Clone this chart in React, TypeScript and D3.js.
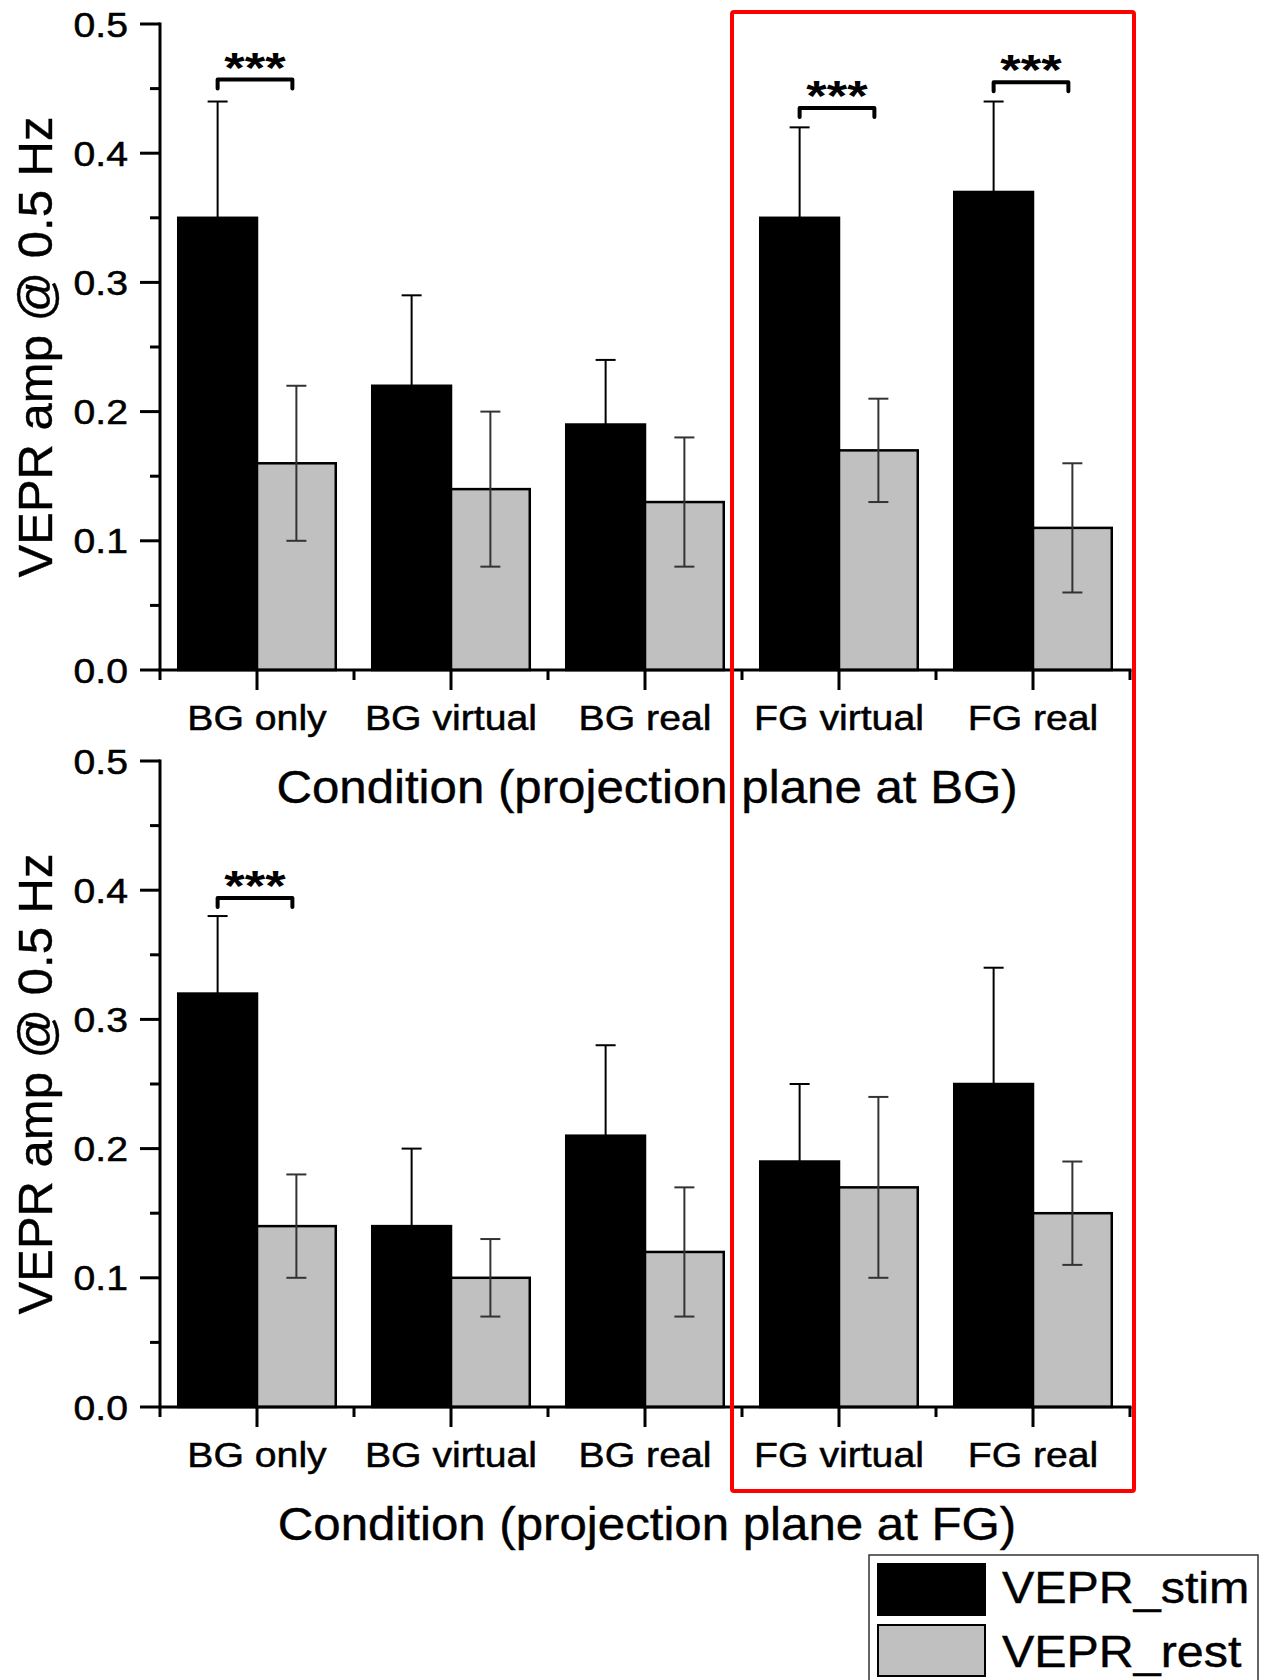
import React from "react";
import * as d3 from "d3";

const categories = ["BG only", "BG virtual", "BG real", "FG virtual", "FG real"];
const seriesNames = ["VEPR_stim", "VEPR_rest"];

const topStim = [0.35, 0.22, 0.19, 0.35, 0.37];
const topStimErr = [0.09, 0.07, 0.05, 0.07, 0.07];
const topRest = [0.16, 0.14, 0.13, 0.17, 0.11];
const topRestErr = [0.06, 0.06, 0.05, 0.04, 0.05];

const bottomStim = [0.32, 0.14, 0.21, 0.19, 0.25];
const bottomStimErr = [0.06, 0.06, 0.07, 0.06, 0.09];
const bottomRest = [0.14, 0.1, 0.12, 0.17, 0.15];
const bottomRestErr = [0.04, 0.03, 0.05, 0.07, 0.04];

const yTickValues = [0, 0.1, 0.2, 0.3, 0.4, 0.5];
const yMinorTicks = [0.05, 0.15, 0.25, 0.35, 0.45];

// significance brackets: category and bracket level (value units)
const topSig = [
  { cat: "BG only", level: 0.457 },
  { cat: "FG virtual", level: 0.435 },
  { cat: "FG real", level: 0.455 },
];
const bottomSig = [{ cat: "BG only", level: 0.394 }];

const topTitle = "Condition (projection plane at BG)";
const bottomTitle = "Condition (projection plane at FG)";
const yTitle = "VEPR amp @ 0.5 Hz";

const FONT = "'Liberation Sans', Arial, Helvetica, sans-serif";
const COLORS = ["#000000", "#c0c0c0"];

const X0 = 160;
const X1 = 1130;

function Panel({ y0, y1, stim, stimErr, rest, restErr, sig, title }) {
  const x = d3.scaleBand().domain(categories).range([X0, X1]).paddingInner(0.188).paddingOuter(0.094);
  const sub = d3.scaleBand().domain(seriesNames).range([0, x.bandwidth()]);
  const y = d3.scaleLinear().domain([0, 0.5]).range([y1, y0]);
  const step = x.step();
  const vals = [stim, rest];
  const errs = [stimErr, restErr];
  const boundaries = d3.range(categories.length + 1).map((i) => X0 + i * step);
  const tickLabelSx = 1.12;
  const tickFont = 35;

  return (
    <g>
      {/* bars */}
      {categories.map((c, i) =>
        seriesNames.map((s, j) => {
          const bx = (x(c) as number) + (sub(s) as number);
          const v = vals[j][i];
          return (
            <rect
              key={c + s}
              x={bx}
              y={y(v)}
              width={sub.bandwidth()}
              height={y(0) - y(v)}
              fill={COLORS[j]}
              stroke="#000"
              strokeWidth={2.5}
            />
          );
        })
      )}
      {/* error bars */}
      {categories.map((c, i) =>
        seriesNames.map((s, j) => {
          const cx = (x(c) as number) + (sub(s) as number) + sub.bandwidth() / 2;
          const v = vals[j][i];
          const e = errs[j][i];
          const col = j === 0 ? "#000" : "#333";
          return (
            <g key={"e" + c + s} stroke={col} strokeWidth={2}>
              <line x1={cx} x2={cx} y1={y(v + e)} y2={y(v - e)} />
              <line x1={cx - 10} x2={cx + 10} y1={y(v + e)} y2={y(v + e)} />
              <line x1={cx - 10} x2={cx + 10} y1={y(v - e)} y2={y(v - e)} />
            </g>
          );
        })
      )}
      {/* y axis */}
      <line x1={X0} x2={X0} y1={y(0.5) - 1.5} y2={y(0)} stroke="#000" strokeWidth={3} />
      {yTickValues.map((t) => (
        <line key={"yt" + t} x1={X0 - 20} x2={X0} y1={y(t)} y2={y(t)} stroke="#000" strokeWidth={3} />
      ))}
      {yMinorTicks.map((t) => (
        <line key={"ym" + t} x1={X0 - 10} x2={X0} y1={y(t)} y2={y(t)} stroke="#000" strokeWidth={3} />
      ))}
      {yTickValues.map((t) => (
        <text
          key={"yl" + t}
          transform={`translate(128,${y(t) + 12.5}) scale(${tickLabelSx},1)`}
          textAnchor="end"
          fontFamily={FONT}
          fontSize={tickFont}
          fill="#000"
          stroke="#000"
          strokeWidth={0.5}
        >
          {d3.format(".1f")(t)}
        </text>
      ))}
      {/* x axis */}
      <line x1={X0 - 1.5} x2={X1 + 1.5} y1={y(0)} y2={y(0)} stroke="#000" strokeWidth={3} />
      {categories.map((c) => {
        const cx = (x(c) as number) + x.bandwidth() / 2;
        return <line key={"xt" + c} x1={cx} x2={cx} y1={y(0)} y2={y(0) + 20} stroke="#000" strokeWidth={3} />;
      })}
      {boundaries.map((bx, i) => (
        <line key={"xm" + i} x1={bx} x2={bx} y1={y(0)} y2={y(0) + 10} stroke="#000" strokeWidth={3} />
      ))}
      {categories.map((c) => {
        const cx = (x(c) as number) + x.bandwidth() / 2;
        return (
          <text
            key={"xl" + c}
            transform={`translate(${cx},${y(0) + 60}) scale(${tickLabelSx},1)`}
            textAnchor="middle"
            fontFamily={FONT}
            fontSize={tickFont}
            fill="#000"
            stroke="#000"
            strokeWidth={0.5}
          >
            {c}
          </text>
        );
      })}
      {/* x title */}
      <text
        transform={`translate(${(X0 + X1) / 2 + 2},${y(0) + 133}) scale(1.07,1)`}
        textAnchor="middle"
        fontFamily={FONT}
        fontSize={46}
        fill="#000"
        stroke="#000"
        strokeWidth={0.4}
      >
        {title}
      </text>
      {/* y title */}
      <text
        transform={`translate(52,${(y(0) + y(0.5)) / 2}) rotate(-90)`}
        textAnchor="middle"
        fontFamily={FONT}
        fontSize={49}
        fill="#000"
        stroke="#000"
        strokeWidth={0.4}
      >
        {yTitle}
      </text>
      {/* significance */}
      {sig.map((s) => {
        const xs = (x(s.cat) as number) + (sub("VEPR_stim") as number) + sub.bandwidth() / 2;
        const xr = (x(s.cat) as number) + (sub("VEPR_rest") as number) + sub.bandwidth() / 2 - 4;
        const by = y(s.level);
        return (
          <g key={"sig" + s.cat}>
            <path
              d={`M${xs},${by + 9} L${xs},${by} L${xr},${by} L${xr},${by + 9}`}
              fill="none"
              stroke="#000"
              strokeWidth={4}
              strokeLinejoin="round"
              strokeLinecap="round"
            />
            <text
              transform={`translate(${(xs + xr) / 2},${by + 2}) scale(1.25,1)`}
              textAnchor="middle"
              fontFamily={FONT}
              fontWeight="bold"
              fontSize={42}
              fill="#000"
            >
              ***
            </text>
          </g>
        );
      })}
    </g>
  );
}

export default function App() {
  return (
    <svg
      width={1268}
      height={1680}
      viewBox="0 0 1268 1680"
      style={{ position: "absolute", left: 0, top: 0, background: "#fff" }}
    >
      <rect x={0} y={0} width={1268} height={1680} fill="#fff" />
      <Panel
        y0={24}
        y1={670}
        stim={topStim}
        stimErr={topStimErr}
        rest={topRest}
        restErr={topRestErr}
        sig={topSig}
        title={topTitle}
      />
      <Panel
        y0={761}
        y1={1407}
        stim={bottomStim}
        stimErr={bottomStimErr}
        rest={bottomRest}
        restErr={bottomRestErr}
        sig={bottomSig}
        title={bottomTitle}
      />
      {/* red highlight box */}
      <rect x={732} y={12} width={402} height={1479} rx={2} fill="none" stroke="#ff0000" strokeWidth={4} />
      {/* legend */}
      <g>
        <rect x={869} y={1555} width={389} height={140} fill="#fff" stroke="#333" strokeWidth={1.5} />
        {seriesNames.map((s, j) => (
          <g key={"lg" + s}>
            <rect x={878} y={1564 + j * 61} width={107} height={51} fill={COLORS[j]} stroke="#000" strokeWidth={2} />
            <text
              transform={`translate(1002,${1603 + j * 64}) scale(1.1,1)`}
              fontFamily={FONT}
              fontSize={44}
              fill="#000"
              stroke="#000"
              strokeWidth={0.4}
            >
              {s}
            </text>
          </g>
        ))}
      </g>
    </svg>
  );
}
